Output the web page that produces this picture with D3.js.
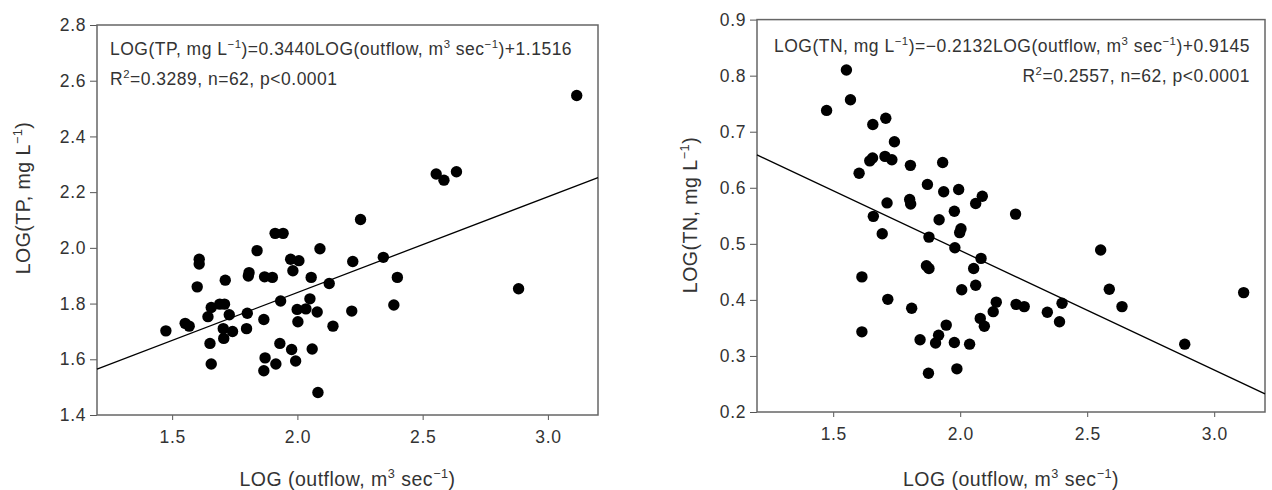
<!DOCTYPE html>
<html>
<head>
<meta charset="utf-8">
<script src="https://d3js.org/d3.v7.min.js"></script>
<style>
body { margin: 0; background: #fff; }
svg { font-family: "Liberation Sans", Arial, sans-serif; }
.tick text { fill: #333; font-size: 17.5px; letter-spacing: 0.6px; }
.tick line { stroke: #555; }
.frame { fill: none; stroke: #666; stroke-width: 1.5px; }
.fit { fill: none; stroke: #000; stroke-width: 1.3px; }
.eq { fill: #333; font-size: 17.5px; letter-spacing: 0.5px; }
.title { fill: #333; font-size: 19.5px; letter-spacing: 0.5px; }
</style>
</head>
<body>
<svg id="chart" width="1272" height="490"></svg>
<script>
// shared x axis
const xDomain = [1.2, 3.2];
const xTicks = [1.5, 2.0, 2.5, 3.0];

// TP panel (left)
const tpOutflow = [3.115, 2.554, 2.585, 2.635, 2.883, 2.252, 2.343, 2.399, 2.385, 2.221,
  2.217, 2.142, 2.127, 2.090, 2.055, 2.050, 2.079, 2.034, 2.059, 2.082,
  1.999, 2.002, 1.977, 1.993, 1.973, 2.006, 1.982, 1.911, 1.943, 1.933,
  1.930, 1.914, 1.866, 1.871, 1.866, 1.839, 1.869, 1.900, 1.807, 1.804,
  1.800, 1.797, 1.712, 1.600, 1.608, 1.608, 1.475, 1.552, 1.568, 1.643,
  1.651, 1.656, 1.656, 1.690, 1.709, 1.728, 1.704, 1.741, 1.706];
const tp = [2.547, 2.265, 2.243, 2.273, 1.853, 2.102, 1.966, 1.894, 1.795, 1.951,
  1.773, 1.719, 1.872, 1.997, 1.894, 1.817, 1.770, 1.781, 1.637, 1.481,
  1.779, 1.735, 1.635, 1.594, 1.959, 1.954, 1.918, 2.052, 2.052, 1.809,
  1.657, 1.583, 1.743, 1.605, 1.559, 1.990, 1.896, 1.894, 1.911, 1.899,
  1.765, 1.710, 1.884, 1.860, 1.959, 1.942, 1.702, 1.729, 1.719, 1.753,
  1.657, 1.583, 1.786, 1.798, 1.798, 1.760, 1.710, 1.700, 1.675];
const tpTicks = [1.4, 1.6, 1.8, 2.0, 2.2, 2.4, 2.6, 2.8];
const tpFit = [0.3440, 1.1516]; // slope, intercept

// TN panel (right)
const tnOutflow = [1.474, 1.552, 1.568, 1.656, 1.707, 1.741, 1.602, 1.644, 1.655, 1.704,
  1.731, 1.804, 1.931, 1.871, 1.935, 1.994, 1.801, 1.805, 1.712, 1.658,
  1.693, 1.613, 1.613, 1.715, 1.809, 1.842, 1.875, 1.877, 1.867, 1.877,
  1.917, 1.977, 2.003, 1.998, 1.979, 2.006, 1.945, 1.915, 1.903, 1.977,
  1.987, 2.037, 2.061, 2.087, 2.082, 2.053, 2.061, 2.079, 2.095, 2.130,
  2.142, 2.218, 2.220, 2.252, 2.343, 2.391, 2.401, 2.553, 2.587, 2.637,
  2.884, 3.116];
const tn = [0.738, 0.810, 0.757, 0.713, 0.724, 0.682, 0.626, 0.648, 0.653, 0.656,
  0.650, 0.640, 0.645, 0.606, 0.593, 0.597, 0.579, 0.571, 0.573, 0.549,
  0.518, 0.441, 0.343, 0.401, 0.385, 0.329, 0.269, 0.512, 0.461, 0.456,
  0.543, 0.558, 0.527, 0.520, 0.493, 0.418, 0.355, 0.337, 0.323, 0.324,
  0.277, 0.321, 0.572, 0.585, 0.474, 0.456, 0.426, 0.367, 0.353, 0.379,
  0.396, 0.553, 0.392, 0.388, 0.378, 0.361, 0.394, 0.489, 0.419, 0.388,
  0.321, 0.413];
const tnTicks = [0.2, 0.3, 0.4, 0.5, 0.6, 0.7, 0.8, 0.9];
const tnFit = [-0.2132, 0.9145];

const svg = d3.select("#chart");
const fmt = d3.format(".1f");

// text with superscripts: parts = [[string, isSup], ...]
function rich(sel, parts, size) {
  let cur = 0;
  parts.forEach(p => {
    const target = p[1] ? -size * 0.4 : 0;
    const t = sel.append("tspan").text(p[0]).attr("dy", target - cur);
    if (p[1]) t.attr("font-size", size * 0.65);
    cur = target;
  });
  return sel;
}

function panel(o) {
  const x = d3.scaleLinear().domain(xDomain).range([o.left, o.right]);
  const y = d3.scaleLinear().domain(o.yDomain).range([o.bottom, o.top]);
  const g = svg.append("g");

  g.append("g")
    .attr("transform", `translate(0,${o.bottom})`)
    .call(d3.axisBottom(x).tickValues(xTicks).tickFormat(fmt).tickSize(5).tickPadding(11))
    .call(a => a.select(".domain").remove());

  g.append("g")
    .attr("transform", `translate(${o.left},0)`)
    .call(d3.axisLeft(y).tickValues(o.yTicks).tickFormat(fmt).tickSize(7).tickPadding(4))
    .call(a => a.select(".domain").remove());

  g.selectAll(".tick text").attr("font-size", null);

  g.append("rect").attr("class", "frame")
    .attr("x", o.left).attr("y", o.top)
    .attr("width", o.right - o.left).attr("height", o.bottom - o.top);

  // regression line across the whole x range
  const line = d3.line().x(d => x(d)).y(d => y(o.fit[0] * d + o.fit[1]));
  g.append("path").attr("class", "fit").attr("d", line(xDomain));

  g.selectAll("circle.pt")
    .data(o.xs.map((v, i) => [v, o.ys[i]]))
    .enter().append("circle")
    .attr("class", "pt")
    .attr("cx", d => x(d[0]))
    .attr("cy", d => y(d[1]))
    .attr("r", 5.7)
    .attr("fill", "#000");

  // equation
  const eq1 = g.append("text").attr("class", "eq")
    .attr("x", o.eqX).attr("y", o.eqY).attr("text-anchor", o.eqAnchor);
  rich(eq1, o.eq1, 17.5);
  const eq2 = g.append("text").attr("class", "eq")
    .attr("x", o.eqX).attr("y", o.eqY + 30).attr("text-anchor", o.eqAnchor);
  rich(eq2, o.eq2, 17.5);

  // axis titles
  const xt = g.append("text").attr("class", "title")
    .attr("x", (o.left + o.right) / 2).attr("y", 486).attr("text-anchor", "middle");
  rich(xt, [["LOG (outflow, m", 0], ["3", 1], [" sec", 0], ["\u22121", 1], [")", 0]], 19.5);

  const yt = g.append("text").attr("class", "title")
    .attr("transform", `translate(${o.yTitleX},${o.yTitleY}) rotate(-90)`)
    .attr("text-anchor", "middle");
  rich(yt, o.yTitle, 19.5);
}

panel({
  left: 97, right: 598, top: 25, bottom: 415,
  yDomain: [1.4, 2.8], yTicks: tpTicks, fit: tpFit,
  xs: tpOutflow, ys: tp,
  eqX: 110, eqY: 55, eqAnchor: "start",
  eq1: [["LOG(TP, mg L", 0], ["\u22121", 1], [")=0.3440LOG(outflow, m", 0], ["3", 1], [" sec", 0], ["\u22121", 1], [")+1.1516", 0]],
  eq2: [["R", 0], ["2", 1], ["=0.3289, n=62, p<0.0001", 0]],
  yTitle: [["LOG(TP, mg L", 0], ["\u22121", 1], [")", 0]],
  yTitleX: 30, yTitleY: 198
});

panel({
  left: 757, right: 1265, top: 19.6, bottom: 412,
  yDomain: [0.2, 0.9], yTicks: tnTicks, fit: tnFit,
  xs: tnOutflow, ys: tn,
  eqX: 1250, eqY: 52, eqAnchor: "end",
  eq1: [["LOG(TN, mg L", 0], ["\u22121", 1], [")=\u22120.2132LOG(outflow, m", 0], ["3", 1], [" sec", 0], ["\u22121", 1], [")+0.9145", 0]],
  eq2: [["R", 0], ["2", 1], ["=0.2557, n=62, p<0.0001", 0]],
  yTitle: [["LOG(TN, mg L", 0], ["\u22121", 1], [")", 0]],
  yTitleX: 697, yTitleY: 215
});
</script>
</body>
</html>
